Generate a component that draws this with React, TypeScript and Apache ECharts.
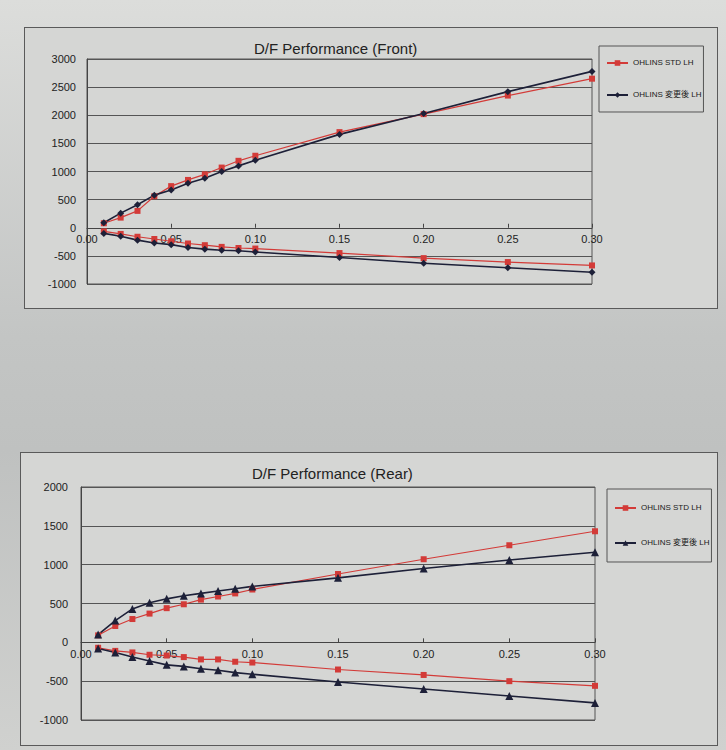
import React, { useEffect, useRef } from "react";
import * as echarts from "echarts";

const strokes = [0.01, 0.02, 0.03, 0.04, 0.05, 0.06, 0.07, 0.08, 0.09, 0.10, 0.15, 0.20, 0.25, 0.30];

const frontStdComp = [80, 180, 300, 560, 740, 850, 950, 1070, 1190, 1280, 1700, 2020, 2350, 2650];
const frontNewComp = [90, 260, 410, 580, 670, 790, 880, 1000, 1100, 1200, 1660, 2030, 2420, 2780];
const frontStdReb = [-65, -110, -160, -200, -240, -280, -310, -340, -360, -370, -450, -540, -610, -670];
const frontNewReb = [-100, -150, -220, -270, -300, -350, -380, -400, -410, -430, -530, -630, -710, -790];

const rearStdComp = [90, 210, 300, 370, 440, 490, 550, 590, 630, 680, 880, 1070, 1250, 1430];
const rearNewComp = [100, 280, 430, 510, 560, 600, 630, 660, 690, 720, 830, 950, 1060, 1160];
const rearStdReb = [-70, -110, -130, -160, -170, -190, -220, -220, -250, -260, -350, -420, -500, -560];
const rearNewReb = [-80, -130, -190, -240, -290, -310, -340, -360, -390, -410, -510, -600, -690, -780];

const STD = "OHLINS STD LH";
const NEW = "OHLINS 変更後 LH";
const FONT = "'Liberation Sans', 'Noto Sans CJK JP', sans-serif";
const RED = "#d33b38";
const NAVY = "#1d2038";

const pairs = (ys: number[]) => strokes.map((x, i) => [x, ys[i]]);

function buildOption(cfg: {
  title: string;
  titleLeft: number;
  grid: { left: number; top: number; width: number; height: number };
  yMin: number;
  yMax: number;
  yLabelMargin: number;
  legendLeft: number;
  legendTop: number;
  legendGap: number;
  legendPad: number;
  newSymbol: string;
  stdComp: number[];
  stdReb: number[];
  newComp: number[];
  newReb: number[];
}) {
  const red = {
    type: "line",
    name: STD,
    symbol: "rect",
    symbolSize: 6,
    itemStyle: { color: RED },
    lineStyle: { color: RED, width: 1.2 },
  };
  const navy = {
    type: "line",
    name: NEW,
    symbol: cfg.newSymbol,
    symbolSize: cfg.newSymbol === "triangle" ? 8 : 7,
    itemStyle: { color: NAVY },
    lineStyle: { color: NAVY, width: 1.6 },
  };
  // distance of the zero line above the bottom of the plot area
  const zeroOffset = (cfg.grid.height * (0 - cfg.yMin)) / (cfg.yMax - cfg.yMin);
  return {
    animation: false,
    backgroundColor: "transparent",
    textStyle: { fontFamily: FONT },
    title: {
      text: cfg.title,
      left: cfg.titleLeft,
      top: 8,
      textStyle: { fontFamily: FONT, fontSize: 15, fontWeight: "normal", color: "#222" },
    },
    legend: {
      orient: "vertical",
      left: cfg.legendLeft,
      top: cfg.legendTop,
      padding: [cfg.legendPad, 2, cfg.legendPad, 7],
      itemGap: cfg.legendGap,
      itemWidth: 21,
      itemHeight: 7,
      backgroundColor: "transparent",
      borderColor: "#555",
      borderWidth: 1,
      textStyle: { fontFamily: FONT, fontSize: 8, color: "#1a1a1a" },
      data: [STD, NEW],
    },
    grid: {
      ...cfg.grid,
      show: true,
      borderColor: "#555",
      borderWidth: 1,
      backgroundColor: "transparent",
      containLabel: false,
    },
    xAxis: {
      type: "value",
      min: 0,
      max: 0.3,
      interval: 0.05,
      position: "bottom",
      offset: -zeroOffset,
      axisLine: { onZero: false, lineStyle: { color: "#444", width: 1 } },
      axisTick: { show: true, inside: true, length: 4, lineStyle: { color: "#444" } },
      axisLabel: {
        color: "#222",
        fontSize: 11,
        fontFamily: FONT,
        margin: 6,
        showMaxLabel: true,
        showMinLabel: true,
        formatter: (v: number) => v.toFixed(2),
      },
      splitLine: { show: false },
    },
    yAxis: {
      type: "value",
      min: cfg.yMin,
      max: cfg.yMax,
      interval: 500,
      axisLine: { show: true, onZero: false, lineStyle: { color: "#444" } },
      axisTick: { show: false },
      axisLabel: {
        color: "#222",
        fontSize: 11,
        fontFamily: FONT,
        margin: cfg.yLabelMargin,
        formatter: (v: number) => String(v),
      },
      splitLine: { show: true, lineStyle: { color: "#555", width: 1 } },
    },
    series: [
      { ...red, data: pairs(cfg.stdComp) },
      { ...red, data: pairs(cfg.stdReb) },
      { ...navy, data: pairs(cfg.newComp) },
      { ...navy, data: pairs(cfg.newReb) },
    ],
  };
}

function Chart({ style, option }: { style: React.CSSProperties; option: any }) {
  const ref = useRef<HTMLDivElement>(null);
  useEffect(() => {
    if (!ref.current) return;
    const chart = echarts.init(ref.current, undefined, { renderer: "svg" });
    chart.setOption(option);
    return () => chart.dispose();
  }, []);
  return <div ref={ref} style={style} />;
}

export default function App() {
  const front = buildOption({
    title: "D/F Performance (Front)",
    titleLeft: 224,
    grid: { left: 62, top: 31, width: 505, height: 225 },
    yMin: -1000,
    yMax: 3000,
    yLabelMargin: 11,
    legendLeft: 574,
    legendTop: 18,
    legendGap: 24,
    legendPad: 13,
    newSymbol: "diamond",
    stdComp: frontStdComp,
    stdReb: frontStdReb,
    newComp: frontNewComp,
    newReb: frontNewReb,
  });
  const rear = buildOption({
    title: "D/F Performance (Rear)",
    titleLeft: 226,
    grid: { left: 60, top: 34, width: 514, height: 233 },
    yMin: -1000,
    yMax: 2000,
    yLabelMargin: 13,
    legendLeft: 586,
    legendTop: 36,
    legendGap: 27,
    legendPad: 15,
    newSymbol: "triangle",
    stdComp: rearStdComp,
    stdReb: rearStdReb,
    newComp: rearNewComp,
    newReb: rearNewReb,
  });
  const box: React.CSSProperties = {
    position: "absolute",
    background: "#d5d6d4",
    border: "1px solid #5a5a5a",
    boxSizing: "border-box",
  };
  return (
    <div
      style={{
        position: "fixed",
        left: 0,
        top: 0,
        width: 726,
        height: 750,
        background: "linear-gradient(180deg, #dcdddb 0%, #c3c5c4 45%, #bfc1c0 60%, #d0d1cf 100%)",
        overflow: "hidden",
      }}
    >
      <Chart style={{ ...box, left: 24, top: 27, width: 694, height: 282 }} option={front} />
      <Chart style={{ ...box, left: 20, top: 452, width: 698, height: 294 }} option={rear} />
    </div>
  );
}
